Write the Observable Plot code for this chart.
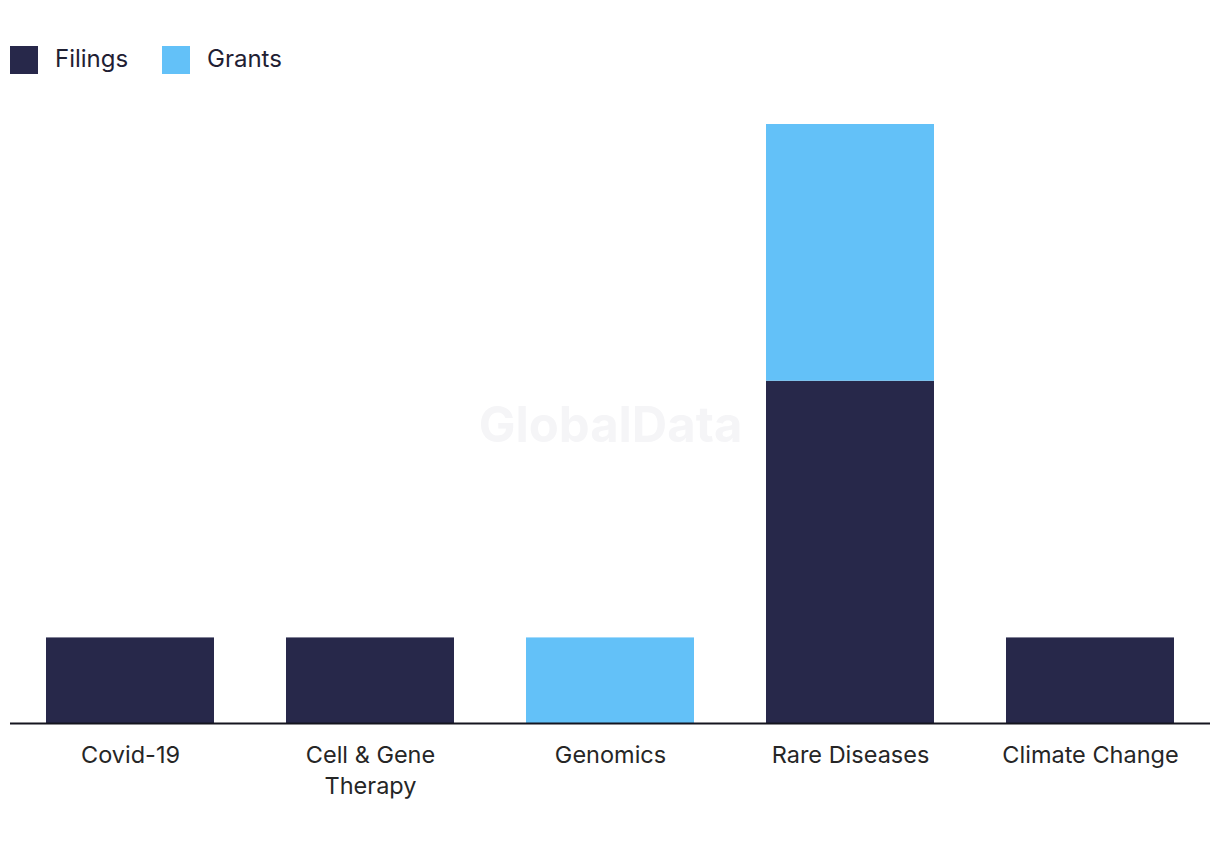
<!DOCTYPE html>
<html>
<head>
<meta charset="utf-8">
<script src="https://cdn.jsdelivr.net/npm/d3@7"></script>
<script src="https://cdn.jsdelivr.net/npm/@observablehq/plot@0.6"></script>
<style>
  html, body { margin: 0; padding: 0; background: #fff; }
  body { width: 1220px; height: 850px; font-family: Inter, "Noto Sans", sans-serif; color: #1f2033; }
  #legend { height: 90px; position: relative; }
  .item { position: absolute; top: 46px; display: flex; align-items: center; font-size: 24px; height: 28px; }
  .item span { position: relative; top: -2px; }
  .sw { width: 28px; height: 28px; margin-right: 17px; }
</style>
</head>
<body>
<div id="legend"></div>
<div id="chart"></div>
<script>
const categories = ["Covid-19", "Cell & Gene Therapy", "Genomics", "Rare Diseases", "Climate Change"];
const tickLabels = ["Covid-19", "Cell & Gene\nTherapy", "Genomics", "Rare Diseases", "Climate Change"];
const seriesNames = ["Filings", "Grants"];
const filings = [1, 1, 0, 4, 1];
const grants = [0, 0, 1, 3, 0];
const colors = ["#27284a", "#63c1f8"];

// legend
const legend = document.getElementById("legend");
const legendX = [10, 162];
seriesNames.forEach((s, i) => {
  const d = document.createElement("div");
  d.className = "item";
  d.style.left = legendX[i] + "px";
  d.innerHTML = `<div class="sw" style="background:${colors[i]}"></div><span>${s}</span>`;
  legend.appendChild(d);
});

const rows = [];
categories.forEach((c, i) => {
  rows.push({category: c, series: "Filings", value: filings[i]});
  rows.push({category: c, series: "Grants", value: grants[i]});
});
const data = rows.filter(d => d.value > 0);
const labelOf = new Map(categories.map((c, i) => [c, tickLabels[i]]));

const chart = Plot.plot({
  width: 1220,
  height: 725,
  marginTop: 34,
  marginBottom: 92,
  marginLeft: 10,
  marginRight: 10,
  style: {fontFamily: "Inter, 'Noto Sans', sans-serif", fontSize: "23px", color: "#262626", background: "#fff"},
  x: {domain: categories, paddingInner: 0.3, paddingOuter: 0.15, label: null},
  y: {domain: [0, 7], axis: null},
  color: {domain: seriesNames, range: colors},
  marks: [
    Plot.text(["GlobalData"], {frameAnchor: "middle", text: d => d, fontSize: 49, fontWeight: 700, fill: "#f5f5f7", dy: 2}),
    Plot.barY(data, Plot.stackY({x: "category", y: "value", fill: "series", order: seriesNames})),
    Plot.ruleY([0], {stroke: "#15151f", strokeWidth: 2}),
    Plot.axisX({tickSize: 0, tickPadding: 18, tickFormat: d => labelOf.get(d), lineHeight: 1.3, fontSize: 23.5, fill: "#262626", label: null})
  ]
});
document.getElementById("chart").appendChild(chart);
</script>
</body>
</html>
